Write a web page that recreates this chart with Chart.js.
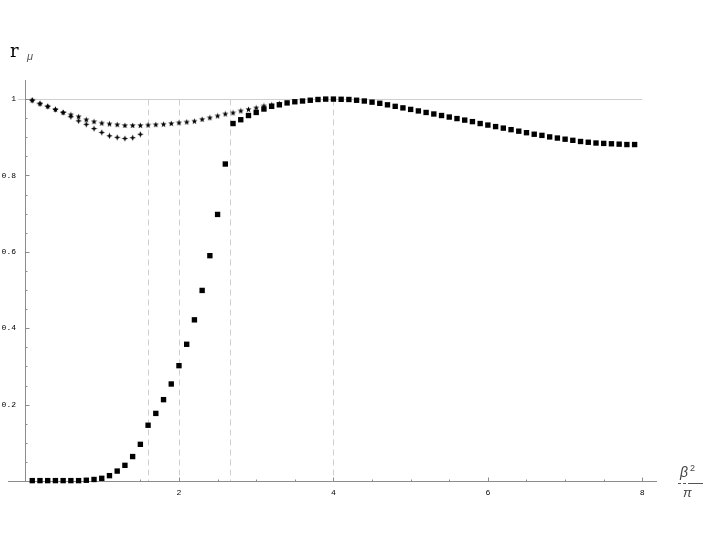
<!DOCTYPE html>
<html>
<head>
<meta charset="utf-8">
<script src="https://cdn.jsdelivr.net/npm/chart.js@4.4.0/dist/chart.umd.min.js"></script>
<style>
  body { margin: 0; background: #fff; }
</style>
</head>
<body>
<canvas id="chart" width="705" height="545"></canvas>
<script>
// square markers: lower branch up to 2.6, then the upper branch
const xSquares = [0.1, 0.2, 0.3, 0.4, 0.5, 0.6, 0.7, 0.8, 0.9, 1.0,
  1.1, 1.2, 1.3, 1.4, 1.5, 1.6, 1.7, 1.8, 1.9, 2.0,
  2.1, 2.2, 2.3, 2.4, 2.5, 2.6, 2.7, 2.8, 2.9, 3.0,
  3.1, 3.2, 3.3, 3.4, 3.5, 3.6, 3.7, 3.8, 3.9, 4.0,
  4.1, 4.2, 4.3, 4.4, 4.5, 4.6, 4.7, 4.8, 4.9, 5.0,
  5.1, 5.2, 5.3, 5.4, 5.5, 5.6, 5.7, 5.8, 5.9, 6.0,
  6.1, 6.2, 6.3, 6.4, 6.5, 6.6, 6.7, 6.8, 6.9, 7.0,
  7.1, 7.2, 7.3, 7.4, 7.5, 7.6, 7.7, 7.8, 7.9];
const ySquares = [0.001, 0.001, 0.001, 0.001, 0.001, 0.001, 0.001, 0.002, 0.004, 0.007,
  0.014, 0.026, 0.041, 0.064, 0.096, 0.146, 0.177, 0.213, 0.254, 0.302,
  0.358, 0.422, 0.499, 0.590, 0.698, 0.830, 0.936, 0.946, 0.957, 0.965,
  0.974, 0.981, 0.985, 0.990, 0.993, 0.995, 0.997, 0.999, 1.0, 1.0,
  0.9995, 0.999, 0.997, 0.995, 0.992, 0.989, 0.985, 0.981, 0.977, 0.973,
  0.969, 0.965, 0.961, 0.957, 0.953, 0.949, 0.945, 0.941, 0.936, 0.932,
  0.928, 0.924, 0.920, 0.916, 0.912, 0.908, 0.905, 0.901, 0.898, 0.895,
  0.892, 0.889, 0.887, 0.885, 0.884, 0.883, 0.882, 0.881, 0.881];

// star markers
const xStars = [0.1, 0.2, 0.3, 0.4, 0.5, 0.6, 0.7, 0.8, 0.9, 1.0,
  1.1, 1.2, 1.3, 1.4, 1.5, 1.6, 1.7, 1.8, 1.9, 2.0,
  2.1, 2.2, 2.3, 2.4, 2.5, 2.6, 2.7, 2.8, 2.9, 3.0,
  3.1, 3.2, 3.3];
const yStars = [0.997, 0.988, 0.981, 0.973, 0.965, 0.959, 0.954, 0.946, 0.941, 0.937,
  0.935, 0.933, 0.931, 0.931, 0.931, 0.932, 0.933, 0.934, 0.936, 0.938,
  0.940, 0.942, 0.947, 0.951, 0.956, 0.961, 0.964, 0.969, 0.973, 0.977,
  0.982, 0.985, 0.988];

// diamond markers (the lower dip)
const xDiamonds = [0.1, 0.2, 0.3, 0.4, 0.5, 0.6, 0.7, 0.8, 0.9, 1.0,
  1.1, 1.2, 1.3, 1.4, 1.5];
const yDiamonds = [0.997, 0.988, 0.981, 0.973, 0.965, 0.954, 0.943, 0.934, 0.923, 0.913,
  0.904, 0.900, 0.897, 0.899, 0.908];

const xMarks = [1.6, 2, 2.667, 4];
const xTicks = [2, 4, 6, 8];
const yTicks = [0.2, 0.4, 0.6, 0.8, 1];

function markerCanvas(points, inner, outer) {
  const c = document.createElement('canvas');
  c.width = 7; c.height = 7;
  const g = c.getContext('2d');
  g.fillStyle = '#000';
  g.beginPath();
  for (let i = 0; i < points * 2; i++) {
    const r = i % 2 ? inner : outer;
    const a = -Math.PI / 2 + i * Math.PI / points;
    g.lineTo(3.5 + r * Math.cos(a), 3.6 + r * Math.sin(a));
  }
  g.closePath();
  g.fill();
  return c;
}
const starMark = markerCanvas(5, 1.3, 3.2);
const diamondMark = markerCanvas(4, 1.3, 3.2);

const toPoints = (xs, ys) => xs.map((x, i) => ({ x: x, y: ys[i] }));

const axesPlugin = {
  id: 'mmaAxes',
  beforeDatasetsDraw(chart) {
    const { ctx, scales: { x, y } } = chart;
    const x0 = Math.round(x.getPixelForValue(0)) + 0.5;
    const y0 = Math.round(y.getPixelForValue(0)) + 0.5;
    const y1 = Math.round(y.getPixelForValue(1)) + 0.5;
    const line = (a, b, c, d) => { ctx.beginPath(); ctx.moveTo(a, b); ctx.lineTo(c, d); ctx.stroke(); };
    ctx.save();
    ctx.lineWidth = 1;

    ctx.strokeStyle = '#cfcfcf';
    ctx.setLineDash([6, 4]);
    xMarks.forEach(v => {
      const px = Math.round(x.getPixelForValue(v)) + 0.5;
      line(px, y1, px, y0);
    });
    ctx.setLineDash([]);
    line(18, y1, x.getPixelForValue(8), y1);

    ctx.strokeStyle = '#8c8c8c';
    line(x.left, y0, x.right, y0);
    line(x0, y0, x0, y.top);

    // ticks point inward
    for (let v = 0.5; v <= 8; v += 0.5) {
      const px = Math.round(x.getPixelForValue(v)) + 0.5;
      line(px, y0, px, y0 - (v % 2 === 0 ? 4 : 2));
    }
    for (let k = 1; k <= 20; k++) {
      const py = Math.round(y.getPixelForValue(k * 0.05)) + 0.5;
      line(x0, py, x0 + (k % 4 === 0 ? 4 : 2), py);
    }

    ctx.fillStyle = '#000';
    ctx.font = '8px "Liberation Sans", Arial, sans-serif';
    ctx.textAlign = 'center';
    ctx.textBaseline = 'middle';
    xTicks.forEach(v => ctx.fillText(String(v), x.getPixelForValue(v), y0 + 11));
    ctx.font = '8px "Liberation Mono", "Courier New", monospace';
    ctx.textAlign = 'right';
    yTicks.forEach(v => ctx.fillText(String(v), 16, y.getPixelForValue(v)));
    ctx.restore();
  },
  afterDraw(chart) {
    const { ctx } = chart;
    ctx.save();
    ctx.fillStyle = '#000';
    ctx.textBaseline = 'alphabetic';
    ctx.textAlign = 'left';
    ctx.font = '18px "DejaVu Serif", serif';
    ctx.fillText('r', 10, 57);
    ctx.fillStyle = '#555';
    ctx.font = 'italic 11px "Liberation Sans", Arial, sans-serif';
    ctx.fillText('\u03bc', 27, 60);

    ctx.fillStyle = '#444';
    ctx.font = 'italic 14px "Liberation Sans", Arial, sans-serif';
    ctx.fillText('\u03b2', 680, 477);
    ctx.font = '9px "Liberation Sans", Arial, sans-serif';
    ctx.fillText('2', 690, 471);
    ctx.font = 'italic 13px "Liberation Sans", Arial, sans-serif';
    ctx.fillText('\u03c0', 683, 497);
    ctx.strokeStyle = '#555';
    ctx.lineWidth = 1;
    ctx.setLineDash([3, 2]);
    ctx.beginPath(); ctx.moveTo(678, 483.5); ctx.lineTo(690, 483.5); ctx.stroke();
    ctx.setLineDash([]);
    ctx.beginPath(); ctx.moveTo(690, 483.5); ctx.lineTo(703, 483.5); ctx.stroke();
    ctx.restore();
  }
};

new Chart(
  document.getElementById('chart'),
  {
    type: 'scatter',
    data: {
      datasets: [
        {
          label: 'squares',
          data: toPoints(xSquares, ySquares),
          pointStyle: 'rect',
          pointRadius: 3.8,
          borderWidth: 0,
          backgroundColor: '#000',
          clip: false
        },
        {
          label: 'stars',
          data: toPoints(xStars, yStars),
          pointStyle: starMark,
          clip: false
        },
        {
          label: 'diamonds',
          data: toPoints(xDiamonds, yDiamonds),
          pointStyle: diamondMark,
          clip: false
        }
      ]
    },
    options: {
      responsive: false,
      animation: false,
      layout: { padding: { left: 8, right: 48, top: 80, bottom: 64 } },
      scales: {
        x: { type: 'linear', min: -0.214, max: 8.19, display: false },
        y: { type: 'linear', min: 0, max: 1.05, display: false }
      },
      plugins: {
        legend: { display: false },
        tooltip: { enabled: false }
      }
    },
    plugins: [axesPlugin]
  }
);
</script>
</body>
</html>
